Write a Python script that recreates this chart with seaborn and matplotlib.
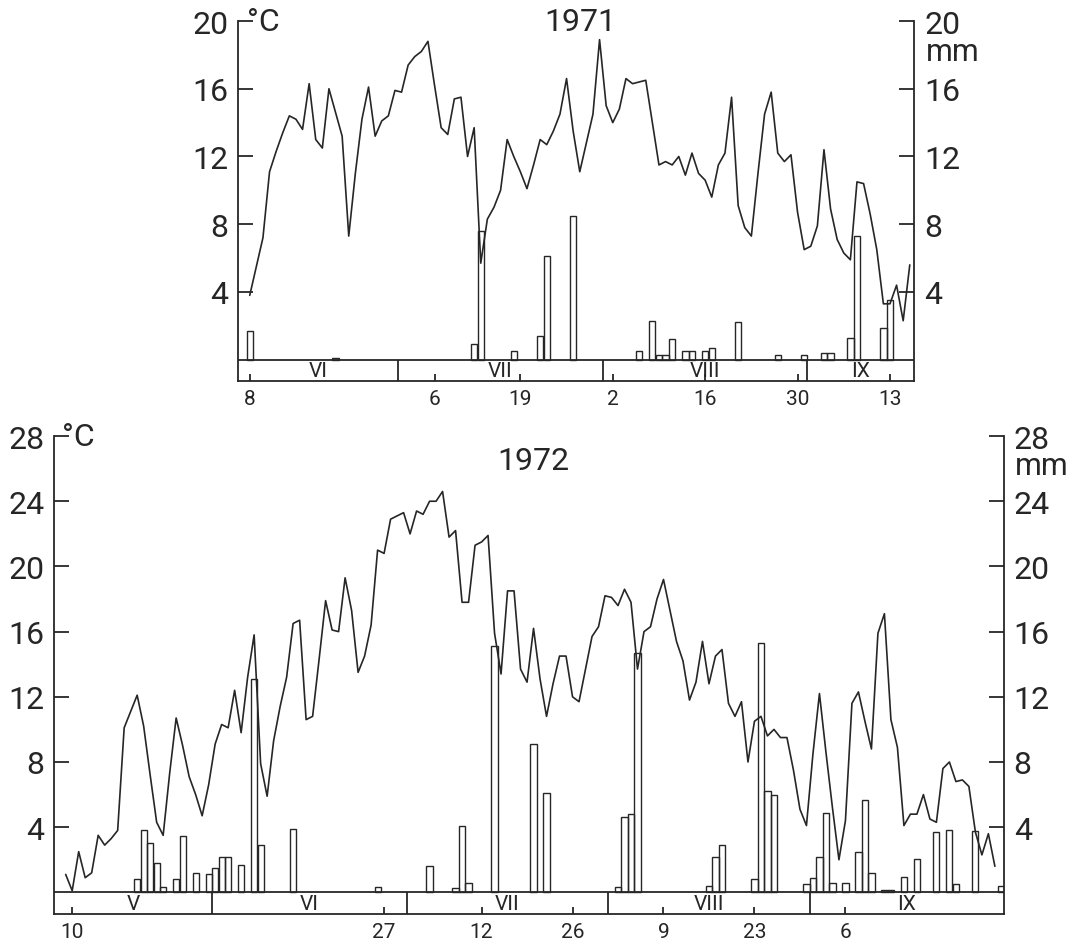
import numpy as np
import pandas as pd
import matplotlib
matplotlib.use('Agg')
import matplotlib.pyplot as plt
import seaborn as sns

# 1971 - daily air temperature (degC) from 8 June, rain (mm)
start_1971 = '1971-06-08'
temp_1971 = [3.8, 5.5, 7.2, 11.1, 12.3, 13.4, 14.4, 14.2, 13.6, 16.3,
             13.0, 12.5, 16.0, 14.6, 13.2, 7.3, 11.0, 14.2, 16.1, 13.2,
             14.1, 14.4, 15.9,
             15.8, 17.4, 17.9, 18.2, 18.8, 16.2, 13.7, 13.3, 15.4, 15.5,
             12.0, 13.7, 5.7, 8.3, 9.0, 10.0, 13.0, 12.0, 11.1, 10.1,
             11.5, 13.0, 12.7, 13.5, 14.5, 16.6, 13.5, 11.1, 12.8, 14.5, 18.9,
             15.0, 14.0, 14.8, 16.6, 16.3, 16.4, 16.5, 14.0, 11.5, 11.7,
             11.5, 12.0, 10.9, 12.2, 11.0, 10.6, 9.6, 11.5, 12.2, 15.5,
             9.1, 7.8, 7.3, 11.0, 14.5, 15.8, 12.2, 11.7, 12.1, 8.7, 6.5,
             6.7, 7.9, 12.4, 8.9, 7.1, 6.3, 5.9, 10.5, 10.4, 8.6,
             6.5, 3.3, 3.3, 4.4, 2.3, 5.6]
rain_1971_dates = ['06-08', '06-21', '07-12', '07-13', '07-18', '07-22', '07-23',
                   '07-27', '08-06', '08-08', '08-09', '08-10', '08-11', '08-13',
                   '08-14', '08-16', '08-17', '08-21', '08-27', '08-31', '09-03',
                   '09-04', '09-07', '09-08', '09-12', '09-13']
rain_1971_mm = [1.7, 0.1, 0.9, 7.6, 0.5, 1.4, 6.1,
                8.5, 0.5, 2.3, 0.3, 0.3, 1.2, 0.5,
                0.5, 0.5, 0.7, 2.2, 0.25, 0.3, 0.4,
                0.4, 1.3, 7.3, 1.9, 3.5]
months_1971 = ['VI', 'VII', 'VIII', 'IX']
ticks_1971 = ['06-08', '07-06', '07-19', '08-02', '08-16', '08-30', '09-13']

# 1972 - from 9 May
start_1972 = '1972-05-09'
temp_1972 = [1.1, 0.1, 2.5, 0.9, 1.2, 3.5, 2.9, 3.3, 3.8, 10.1,
             11.1, 12.1, 10.2, 7.2, 4.3, 3.5, 7.3, 10.7, 9.0, 7.1,
             6.0, 4.7, 6.6,
             9.1, 10.3, 10.1, 12.4, 9.8, 13.2, 15.8, 7.9, 5.9, 9.3,
             11.4, 13.2, 16.5, 16.7, 10.6, 10.8, 14.3, 17.9, 16.1, 16.0,
             19.3, 17.3, 13.5, 14.5, 16.4, 21.0, 20.8, 22.9, 23.1, 23.3,
             22.0, 23.4, 23.2, 24.0, 24.0, 24.6, 21.8, 22.2, 17.8, 17.8,
             21.3, 21.5, 21.9, 15.9, 13.4, 18.5, 18.5, 13.7, 12.9, 16.2,
             13.1, 10.8, 12.8, 14.5, 14.5, 12.0, 11.7, 13.7, 15.7, 16.3, 18.2,
             18.1, 17.6, 18.6, 17.8, 13.7, 16.0, 16.3, 18.0, 19.2, 17.3,
             15.4, 14.2, 11.8, 12.9, 15.4, 12.8, 14.5, 14.9, 11.6, 10.8,
             11.7, 8.0, 10.5, 10.8, 9.6, 10.0, 9.5, 9.5, 7.5, 5.1, 4.1,
             8.5, 12.2, 8.6, 5.2, 2.0, 4.4, 11.6, 12.3, 10.5, 8.8,
             15.9, 17.1, 10.6, 8.9, 4.1, 4.8, 4.8, 6.0, 4.5, 4.3,
             7.6, 8.0, 6.8, 6.9, 6.5, 3.7, 2.3, 3.6, 1.6]
rain_1972_dates = ['05-20', '05-21', '05-22', '05-23', '05-24', '05-26', '05-27',
                   '05-29', '05-31', '06-01', '06-02', '06-03', '06-05', '06-07',
                   '06-08', '06-13', '06-26', '07-04', '07-08', '07-09', '07-10',
                   '07-14', '07-20', '07-22', '08-02', '08-03', '08-04', '08-05',
                   '08-16', '08-17', '08-18', '08-23', '08-24', '08-25', '08-26',
                   '08-31', '09-01', '09-02', '09-03', '09-04', '09-06', '09-08',
                   '09-09', '09-10', '09-12', '09-13', '09-15', '09-17', '09-20',
                   '09-22', '09-23', '09-26', '09-30']
rain_1972_mm = [0.8, 3.8, 3.05, 1.8, 0.3, 0.8, 3.45,
                1.2, 1.1, 1.5, 2.2, 2.2, 1.7, 13.1,
                2.9, 3.9, 0.3, 1.6, 0.25, 4.1, 0.6,
                15.1, 9.1, 6.1, 0.3, 4.65, 4.8, 14.7,
                0.4, 2.2, 2.9, 0.8, 15.3, 6.25, 5.95,
                0.5, 0.9, 2.2, 4.9, 0.55, 0.55, 2.45,
                5.65, 1.2, 0.15, 0.15, 0.95, 2.05, 3.7,
                3.85, 0.5, 3.75, 0.4]
months_1972 = ['V', 'VI', 'VII', 'VIII', 'IX']
ticks_1972 = ['05-10', '06-27', '07-12', '07-26', '08-09', '08-23', '09-06']

INK = '#262626'
LW = 1.3


def day_num(dates, ref):
    return np.asarray((pd.to_datetime(dates) - pd.Timestamp(ref)).days, dtype=float)


def panel(ax, year, first_month, temp, start, rain_dates, rain_mm, months, ticks,
          xlim, ytop, ybot, mm_y, title_x, title_y):
    ref = pd.Timestamp(year=year, month=first_month, day=1) - pd.Timedelta(days=1)
    full = lambda md: [f'{year}-{d}' for d in md]

    x_t = day_num(pd.date_range(start, periods=len(temp)), ref)
    sns.lineplot(x=x_t, y=temp, ax=ax, color=INK, linewidth=1.2)

    axr = ax.twinx()
    sns.barplot(x=day_num(full(rain_dates), ref), y=rain_mm, ax=axr,
                native_scale=True, fill=False, color=INK, linewidth=1.0,
                width=0.95, errorbar=None)

    # month strip under the plot
    bounds = [day_num([f'{year}-{first_month + i:02d}-01'], ref)[0] - 0.5
              for i in range(len(months) + 1)]
    ax.axhline(0, color=INK, lw=LW)
    inner = [b for b in bounds if xlim[0] < b < xlim[1]]
    ax.vlines(inner, ybot, 0, color=INK, lw=LW)
    for i, m in enumerate(months):
        a, b = max(bounds[i], xlim[0]), min(bounds[i + 1], xlim[1])
        ax.text((a + b) / 2, ybot / 2, m, ha='center', va='center', fontsize=15, color=INK)

    ax.set_xticks(day_num(full(ticks), ref), [t.split('-')[1].lstrip('0') for t in ticks])
    ax.tick_params(axis='x', direction='in', length=5, width=LW, labelsize=15, pad=6,
                   colors=INK)

    yt = list(range(4, ytop + 1, 4))
    for a in (ax, axr):
        a.set_ylim(ybot, ytop)
        a.set_yticks(yt)
        a.tick_params(axis='y', direction='in', length=11, width=LW, labelsize=23, pad=7,
                      colors=INK)
        a.set_xlabel('')
        a.set_ylabel('')
    ax.set_xlim(*xlim)

    ax.spines['top'].set_visible(False)
    ax.spines['right'].set_visible(False)
    for s in ('top', 'left', 'bottom'):
        axr.spines[s].set_visible(False)
    for a in (ax, axr):
        for s in a.spines.values():
            s.set_linewidth(LW)
            s.set_color(INK)

    ax.annotate('°C', xy=(0, ytop), xycoords=ax.get_yaxis_transform(), xytext=(6, 0),
                textcoords='offset points', ha='left', va='center', fontsize=23, color=INK)
    axr.annotate('mm', xy=(1, mm_y), xycoords=axr.get_yaxis_transform(), xytext=(8, 0),
                 textcoords='offset points', ha='left', va='center', fontsize=22, color=INK)
    ax.text(title_x, title_y, str(year), transform=ax.get_yaxis_transform(),
            ha='center', va='center', fontsize=23, color=INK)


sns.set_style('ticks')
plt.rcParams['font.family'] = ['Roboto', 'DejaVu Sans']

fig = plt.figure(figsize=(10.82, 9.45), dpi=100)
ax1 = fig.add_axes([0.2202, 0.5961, 0.6249, 0.3806])
ax2 = fig.add_axes([0.0499, 0.0317, 0.8780, 0.5058])

panel(ax1, 1971, 6, temp_1971, start_1971, rain_1971_dates, rain_1971_mm, months_1971,
      ticks_1971, (6.26, 108.7), 20, -1.24, 18.2, 0.506, 20)
panel(ax2, 1972, 5, temp_1972, start_1972, rain_1972_dates, rain_1972_mm, months_1972,
      ticks_1972, (7.2, 153.4), 28, -1.33, 26.2, 0.505, 26.5)

fig.savefig('out.png', dpi=100)
